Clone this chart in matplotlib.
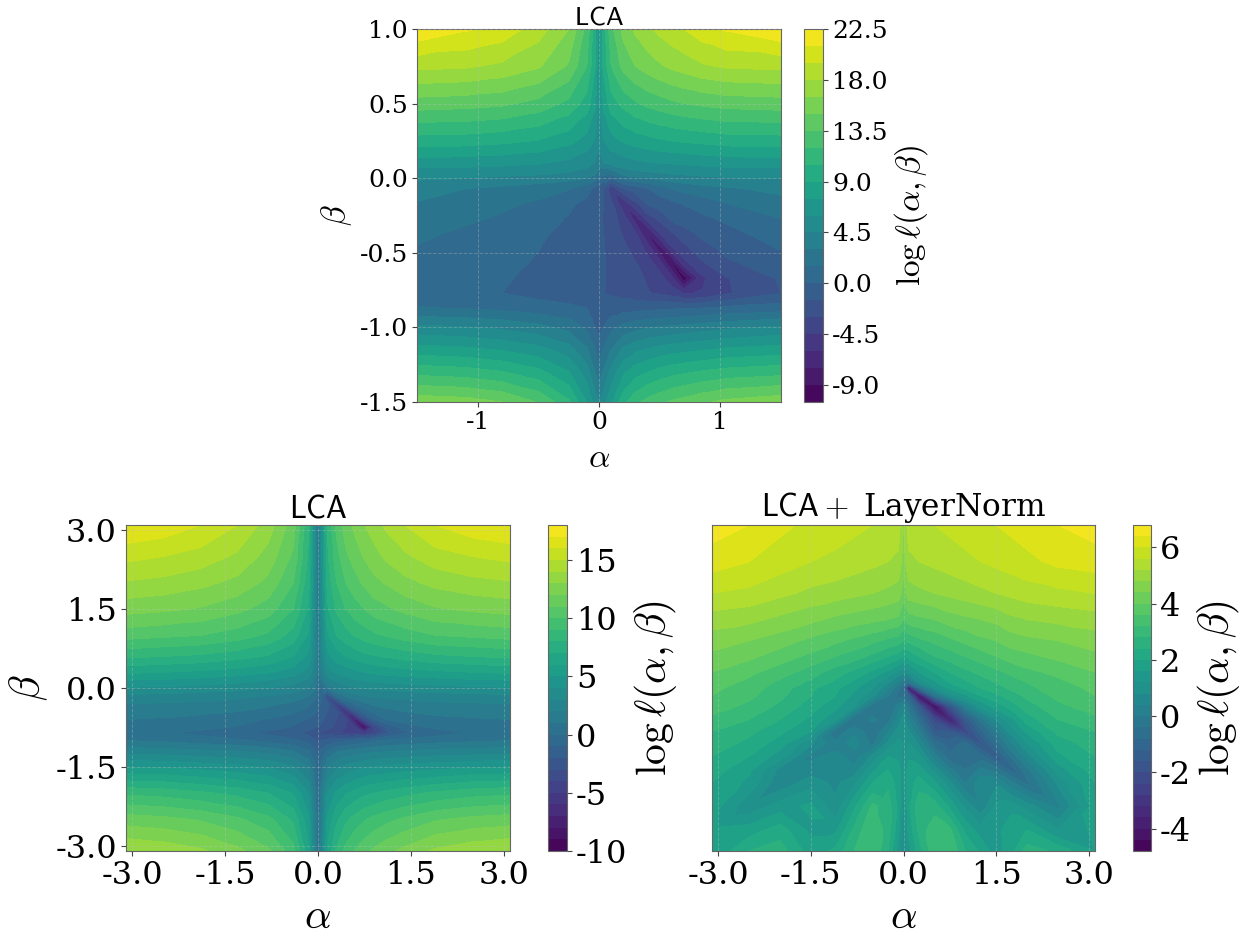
import numpy as np
import matplotlib
matplotlib.use("Agg")
import matplotlib.pyplot as plt
from matplotlib.tri import Triangulation

plt.rcParams['font.family'] = 'DejaVu Serif'
plt.rcParams['mathtext.fontset'] = 'cm'
plt.rcParams['axes.unicode_minus'] = False

W, H = 1246, 930

top_alpha = [-1.5,-1.1,-0.8,-0.5,-0.25,-0.1,-0.03,0,0.03,0.1,0.2,0.3,0.4,0.5,0.6,0.7,0.85,1.05,1.5]
top_beta = [1,0.75,0.5,0.25,0.1,0.03,-0.07,-0.17,-0.27,-0.37,-0.47,-0.57,-0.67,-0.77,-0.87,-1.0,-1.15,-1.3,-1.5]
top_loss = [
[22.3,21.2,20.5,18.7,16.5,13,9.5,6,9.5,13,15.5,16.8,17.7,18.4,19,19.5,20.4,21.2,22.3],
[18.4,18.2,17.7,16.7,14.8,12,9,6,9,12,14,15,15.7,16.3,16.8,17.2,17.8,18.2,18.4],
[14.3,14.1,13.8,13,11.6,9.8,7.8,5.6,7.8,9.8,11,11.8,12.4,12.8,13.2,13.5,13.8,14.1,14.3],
[9.8,9.7,9.4,8.9,8,6.9,5.8,4.8,5.8,6.9,7.7,8.2,8.5,8.8,9,9.2,9.4,9.7,9.8],
[6.7,6.6,6.4,6.1,5.6,5,4.4,3.8,4.4,4.9,5.3,5.6,5.8,6,6.1,6.2,6.4,6.6,6.7],
[5.1,5,4.9,4.7,4.3,3.9,3.2,2.4,1.8,1.7,3.6,4,4.2,4.4,4.6,4.7,4.9,5,5.1],
[3.7,3,2.6,2.1,1.6,0.6,-0.5,-0.8,-1.3,-4,-1.6,-0.8,-0.05,0.7,1.6,2,2.4,2.8,3.4],
[2.9,2.2,1.8,1.3,0.3,-0.4,-0.9,-1.1,-1.4,-2.7,-5.6,-3.4,-1.3,-0.7,-0.3,0.1,0.7,1.5,2.5],
[2.4,1.8,1.3,0.6,-0.1,-0.9,-1.2,-1.3,-1.5,-2.4,-3.6,-6.7,-3.8,-2.6,-1.1,-0.7,-0.3,0.3,1.5],
[1.85,1.2,0.9,0.3,-0.5,-1,-1.2,-1.3,-1.45,-1.9,-3.2,-4.3,-7.7,-4.5,-3.2,-2.2,-1,-0.5,0.85],
[1.4,1,0.7,0.05,-0.7,-1.1,-1.3,-1.4,-1.45,-1.7,-2.6,-3.6,-5,-8.4,-4.7,-3.4,-2.2,-1,0.1],
[1.1,0.7,0.5,-0.2,-0.8,-1.1,-1.3,-1.4,-1.45,-1.6,-2.2,-2.9,-3.9,-5.2,-9.2,-5,-3.2,-1.8,-0.6],
[0.8,0.45,0.2,-0.4,-0.9,-1.1,-1.3,-1.4,-1.45,-1.6,-2,-2.5,-3.2,-3.9,-5.5,-10,-4.8,-3.1,-1.3],
[0.6,0.3,0,-0.5,-0.9,-1.2,-1.3,-1.4,-1.45,-1.7,-2,-2.5,-2.9,-3.2,-3.7,-4.6,-4.4,-3.2,-1.5],
[1.6,1.4,1.1,0.7,0.35,0,-0.4,-0.9,-0.6,-0.8,-0.6,-0.5,-0.4,-0.3,-0.2,-0.1,0,0.3,0.7],
[4.9,4.6,4.2,3.5,2.5,1.2,0,-0.5,0,1.1,2,2.5,2.9,3.1,3.3,3.5,3.8,4.2,4.8],
[8.2,7.9,7.4,6.6,5.2,3.2,1.5,0.6,1.5,3,4.8,5.7,6.2,6.6,6.9,7.1,7.4,7.8,8.2],
[11.5,11.2,10.6,9.5,7.6,5.2,3,2,3,5,7.2,8.4,9,9.6,10,10.3,10.7,11.1,11.5],
[16,15.7,15,13.4,10.8,7.5,5.2,4.5,5.2,7.2,10,11.6,12.5,13.1,13.7,14.1,14.7,15.4,16],
]

left_alpha = [-3.1,-2.5,-1.9,-1.3,-0.8,-0.4,-0.15,-0.05,0,0.05,0.15,0.3,0.45,0.6,0.75,0.9,1.1,1.4,1.9,2.5,3.1]
left_beta = [3.1,2.5,2,1.5,1,0.6,0.3,0.15,0,-0.15,-0.3,-0.45,-0.6,-0.75,-0.85,-1,-1.2,-1.5,-2,-2.5,-3.1]
left_loss = [
[17,16.7,16,15,13.5,11.5,8,3.5,1,3.5,8,10.3,11.5,12.3,13,13.5,14.2,15,16,16.7,17],
[15.3,15,14.6,13.8,12.6,10.8,7.8,3.5,1,3.5,7.8,9.6,10.8,11.5,12.1,12.6,13.2,13.8,14.6,15,15.3],
[13.9,13.7,13.3,12.7,11.7,10,7.3,3.3,1,3.3,7.3,9,10,10.6,11.2,11.7,12.1,12.7,13.3,13.7,13.9],
[12.4,12.2,11.9,11.3,10.5,9,6.8,3.2,1,3.2,6.8,8.2,9,9.6,10,10.5,10.8,11.3,11.9,12.2,12.4],
[10.4,10.2,10,9.5,8.8,7.6,5.8,3,0.9,3,5.8,7,7.6,8.1,8.5,8.8,9.1,9.5,10,10.2,10.4],
[8.2,8,7.8,7.4,6.9,6,4.7,2.8,0.8,2.6,4.7,5.5,6,6.4,6.7,6.9,7.1,7.4,7.8,8,8.2],
[6.2,6,5.8,5.5,5.1,4.5,3.6,2.3,0.7,1.8,3.5,4.2,4.5,4.8,5,5.2,5.4,5.6,5.8,6,6.2],
[5,4.9,4.7,4.4,4,3.5,2.8,1.6,0.5,1,2.6,3.2,3.6,3.9,4.1,4.3,4.4,4.5,4.7,4.9,5],
[3.9,3.8,3.6,3.4,3,2.6,2,1.2,0.3,-0.4,1,2.1,2.6,2.9,3.1,3.2,3.3,3.5,3.6,3.8,3.9],
[2.8,2.7,2.5,2.3,2,1.6,1,0.3,-0.2,-0.8,-3,0.2,1.2,1.7,2,2.2,2.3,2.4,2.6,2.7,2.8],
[2,1.9,1.8,1.5,1.2,0.8,0.2,-0.4,-0.7,-1.1,-1.8,-4.5,-1,0.2,0.8,1.2,1.4,1.6,1.8,1.9,2],
[1.4,1.3,1.2,1,0.7,0.2,-0.4,-0.8,-1.1,-1.4,-2,-2.8,-6,-2.2,-0.6,0.2,0.7,1,1.2,1.3,1.4],
[1,0.9,0.7,0.4,-0.1,-0.6,-1.1,-1.4,-1.6,-1.8,-2.3,-3,-3.8,-7.5,-3.2,-1.2,0,0.5,0.8,0.9,1],
[0.6,0.5,0.3,-0.1,-0.6,-1.1,-1.6,-1.9,-2.1,-2.2,-2.7,-3.3,-4,-5,-9,-4,-1.8,-0.6,0.2,0.5,0.6],
[0.5,0.15,-0.3,-0.8,-1.2,-1.7,-2.3,-2.7,-3,-3.2,-3.4,-3.9,-4.2,-4.5,-5,-4,-2.2,-1.1,-0.5,0.1,0.5],
[1,0.8,0.5,0.2,-0.3,-0.8,-1.3,-1.9,-2.2,-1.9,-1.7,-1.4,-1.1,-0.8,-0.5,-0.2,0.1,0.3,0.6,0.8,1],
[2.5,2.4,2.2,2,1.6,1,0.1,-0.8,-1.4,-0.8,0.1,0.9,1.2,1.4,1.6,1.8,1.9,2.1,2.3,2.4,2.5],
[5,4.9,4.6,4.3,3.9,3.1,1.9,0.3,-0.7,0.3,1.9,2.8,3.3,3.6,3.9,4.1,4.2,4.4,4.6,4.9,5],
[8.8,8.6,8.2,7.7,7,5.9,4,1.3,-0.3,1.3,4,5.2,5.9,6.4,6.8,7,7.3,7.7,8.2,8.6,8.8],
[11.5,11.3,10.9,10.2,9.3,7.8,5.2,1.8,0,1.8,5.2,6.8,7.8,8.4,8.9,9.3,9.7,10.2,10.9,11.3,11.5],
[14,13.7,13.2,12.3,11.2,9.4,6.2,2.3,0.2,2.3,6.2,8.2,9.4,10.1,10.7,11.2,11.7,12.3,13.2,13.7,14],
]

right_alpha = [-3.1,-2.5,-2,-1.5,-1.1,-0.8,-0.5,-0.25,-0.08,0,0.08,0.25,0.5,0.75,1,1.25,1.5,1.75,2,2.5,3.1]
right_beta = [3.1,2.4,1.8,1.3,0.9,0.6,0.3,0.1,0,-0.15,-0.35,-0.6,-0.83,-1.05,-1.3,-1.55,-1.8,-2.25,-2.7,-3.1]
right_loss = [
[6.6,6.4,6.1,5.9,5.8,5.7,5.6,5.5,5.4,4.8,5.4,5.5,5.6,5.7,5.8,5.9,6,6.1,6.2,6.4,6.6],
[6.2,6,5.8,5.6,5.5,5.4,5.3,5.2,5.1,4.6,5.1,5.2,5.3,5.4,5.5,5.6,5.7,5.8,5.9,6.1,6.2],
[5.6,5.5,5.3,5.1,5,4.9,4.8,4.7,4.6,4.2,4.6,4.7,4.8,4.9,5,5.1,5.2,5.3,5.4,5.5,5.6],
[5,4.9,4.7,4.5,4.3,4.2,4.1,4,3.9,3.6,3.8,3.9,4,4.2,4.3,4.4,4.5,4.7,4.8,4.9,5],
[4.6,4.4,4.2,3.9,3.7,3.5,3.3,3.1,3,2.8,2.9,3.1,3.3,3.5,3.7,3.9,4,4.2,4.3,4.4,4.6],
[4.3,4.1,3.8,3.5,3.2,3,2.7,2.4,2.2,2,2.1,2.4,2.8,3,3.2,3.4,3.6,3.8,3.9,4.1,4.3],
[4,3.7,3.4,3,2.6,2.3,1.9,1.5,1.1,0.9,1,1.6,2,2.4,2.7,2.9,3.1,3.3,3.5,3.7,4],
[3.8,3.5,3.1,2.7,2.3,1.9,1.4,0.8,0.2,-0.2,-0.5,0.8,1.5,2,2.3,2.6,2.8,3,3.2,3.5,3.8],
[3.7,3.4,3,2.5,2.1,1.7,1.2,0.5,-0.3,-0.6,-3.8,-0.5,1,1.7,2.1,2.4,2.6,2.9,3.1,3.4,3.7],
[3.6,3.3,2.9,2.4,2,1.5,0.9,0,-0.5,-0.5,-1,-4.3,-0.5,0.9,1.5,2,2.3,2.6,2.9,3.3,3.6],
[3.4,3.1,2.7,2.2,1.7,1.2,-0.3,-0.4,0.2,0.6,-0.2,-1.6,-4.4,-1.8,0.2,1.3,1.8,2.2,2.6,3.1,3.4],
[3.1,2.8,2.4,1.9,1.3,-0.4,0.1,-0.2,0.6,1,0.4,-0.6,-2.2,-3.6,-1.6,-0.2,0.8,1.5,2.2,2.8,3.1],
[2.8,2.5,2.1,1.6,-0.3,0.3,-0.3,0.4,1,1.1,0.9,0.1,-1.5,-1.6,-2.2,-1,0,1,1.7,2.5,2.8],
[2.6,2.3,1.8,0.9,0.1,0.6,-0.1,0.9,1.3,1.2,1.2,0.7,-0.6,-1,-0.7,-1.7,-0.6,0.4,1.2,2.2,2.6],
[2.4,2,1.4,0.3,0.6,0.2,0.9,1.6,1.5,1.1,1.5,1.3,0.2,-0.7,-0.4,-0.6,-1.4,-0.3,0.6,1.9,2.4],
[2.2,1.7,0.7,0.6,0.8,0.5,1.5,2,1.8,1.2,1.8,1.8,1,0.1,-0.4,0.1,-0.2,-1,-0.1,1.4,2.2],
[2,1.5,0.5,1,0.7,1.1,2,2.3,1.8,1.2,1.8,2.2,1.7,0.9,0,0.7,0.7,0.1,-0.5,0.9,2],
[1.8,0.9,1.4,1.7,0.9,1.9,2.9,2.6,1.9,1,1.9,2.7,2.6,1.9,1.1,0.5,1.3,1.4,1,0.3,1.8],
[1.7,1.8,2.2,1.5,1.5,2.5,3.2,2.6,1.7,0.9,1.7,2.5,3.1,2.9,1.9,1.4,1.4,2,2,1.2,1.7],
[1.6,2.4,2.6,1.8,2.1,2.8,3.2,2.4,1.4,0.8,1.4,2.2,3.1,3.2,2.4,1.9,1.4,1.9,2.6,2.3,1.6],
]

top_levels = np.arange(-10.5, 22.6, 1.5)
left_levels = np.arange(-10, 18.5, 1.0)
right_levels = np.arange(-4.8, 6.9, 0.4)

top_xticks = [-1, 0, 1]
top_yticks = [-1.5, -1.0, -0.5, 0.0, 0.5, 1.0]
bottom_ticks = [-3.0, -1.5, 0.0, 1.5, 3.0]
top_cticks = [-9.0, -4.5, 0.0, 4.5, 9.0, 13.5, 18.0, 22.5]
left_cticks = [-10, -5, 0, 5, 10, 15]
right_cticks = [-4, -2, 0, 2, 4, 6]


def frame(x0, y0, x1, y1):
    return [x0 / W, 1 - y1 / H, (x1 - x0) / W, (y1 - y0) / H]


def surface(ax, xs, ys, zs, levels):
    """Filled contours on the read grid; each cell is split so that valleys stay connected."""
    xs, ys, zs = np.array(xs, float), np.array(ys, float), np.array(zs, float)
    X, Y = np.meshgrid(xs, ys)
    nr, nc = zs.shape
    z = zs.ravel()
    tris = []
    for r in range(nr - 1):
        for c in range(nc - 1):
            a, b = r * nc + c, r * nc + c + 1
            d, e = (r + 1) * nc + c, (r + 1) * nc + c + 1
            saddle = (max(z[a], z[e]) < min(z[b], z[d])) or (min(z[a], z[e]) > max(z[b], z[d]))
            if saddle:
                use_ae = z[a] + z[e] < z[b] + z[d]
            else:
                use_ae = abs(z[a] - z[e]) <= abs(z[b] - z[d])
            if use_ae:
                tris += [[a, b, e], [a, e, d]]
            else:
                tris += [[a, b, d], [b, e, d]]
    tri = Triangulation(X.ravel(), Y.ravel(), tris)
    return ax.tricontourf(tri, z, levels=levels, cmap='viridis')


def style(ax, cax, cs, cticks, cfmt, tick_fs, label_fs, title, title_fs, xticks, xfmt,
          yticks=None, gridaxis='both', xpad=3):
    ax.set_xticks(xticks)
    ax.set_xticklabels([xfmt % t for t in xticks])
    if yticks is not None:
        ax.set_yticks(yticks)
        ax.set_yticklabels(['%.1f' % t for t in yticks])
        ax.set_ylabel(r'$\beta$', fontsize=label_fs, labelpad=4)
    else:
        ax.set_yticks([])
    ax.tick_params(labelsize=tick_fs, color='#444444', pad=3)
    ax.set_xlabel(r'$\alpha$', fontsize=label_fs, labelpad=xpad)
    ax.set_title(title, fontsize=title_fs, pad=2)
    ax.grid(True, axis=gridaxis, linestyle='--', linewidth=0.7, color='#c0c0c0', alpha=0.35)
    ax.set_axisbelow(False)
    for s in ax.spines.values():
        s.set_color('#666666')
    cb = ax.figure.colorbar(cs, cax=cax, ticks=cticks)
    cb.ax.set_yticklabels([cfmt % t for t in cticks])
    cb.ax.tick_params(labelsize=tick_fs, color='#444444', pad=3)
    cb.set_label(r'$\log\ell(\alpha,\beta)$', fontsize=label_fs, labelpad=3)
    cb.outline.set_edgecolor('#666666')


fig = plt.figure(figsize=(W / 100, H / 100), dpi=100)

ax1 = fig.add_axes(frame(417, 29, 781, 402))
cax1 = fig.add_axes(frame(804, 29, 823, 402))
cs1 = surface(ax1, top_alpha, top_beta, top_loss, top_levels)
ax1.set_xlim(-1.5, 1.5)
ax1.set_ylim(-1.5, 1.0)
style(ax1, cax1, cs1, top_cticks, '%.1f', 18, 24, r'$\mathsf{LCA}$', 19, top_xticks, '%d', top_yticks, xpad=6)

ax2 = fig.add_axes(frame(126, 525, 510, 851))
cax2 = fig.add_axes(frame(548, 525, 567, 851))
cs2 = surface(ax2, left_alpha, left_beta, left_loss, left_levels)
ax2.set_xlim(-3.1, 3.1)
ax2.set_ylim(-3.1, 3.1)
style(ax2, cax2, cs2, left_cticks, '%d', 23, 30, r'$\mathsf{LCA}$', 22.5, bottom_ticks, '%.1f', bottom_ticks)

ax3 = fig.add_axes(frame(712, 525, 1095, 851))
cax3 = fig.add_axes(frame(1133, 525, 1151, 851))
cs3 = surface(ax3, right_alpha, right_beta, right_loss, right_levels)
ax3.set_xlim(-3.1, 3.1)
ax3.set_ylim(-3.1, 3.1)
style(ax3, cax3, cs3, right_cticks, '%d', 23, 30, r'$\mathsf{LCA}+$ LayerNorm', 22.5, bottom_ticks, '%.1f',
      None, gridaxis='x')

fig.savefig('out.png', dpi=100)
